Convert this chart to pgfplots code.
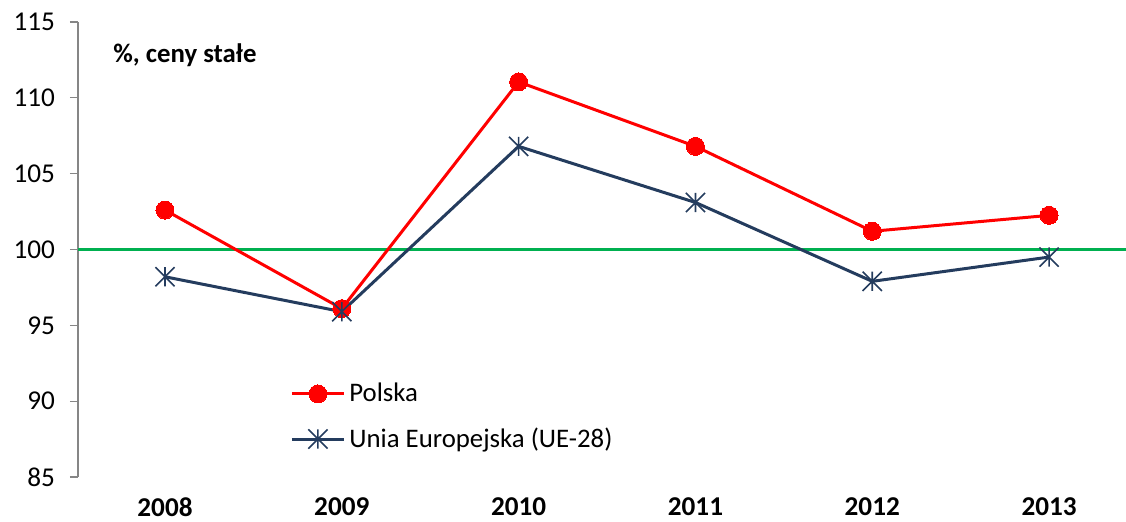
\documentclass[border=0pt]{standalone}
\usepackage{fontspec}
\setmainfont{Carlito}
\usepackage{pgfplots}
\pgfplotsset{compat=1.18}
\definecolor{plred}{RGB}{255,0,0}
\definecolor{eunavy}{RGB}{36,60,94}
\definecolor{lgreen}{RGB}{0,176,80}
\definecolor{axgray}{RGB}{134,134,134}
\pgfdeclareplotmark{xstar}{%
  \pgfpathmoveto{\pgfqpoint{0pt}{\pgfplotmarksize}}%
  \pgfpathlineto{\pgfqpoint{0pt}{-\pgfplotmarksize}}%
  \pgfpathmoveto{\pgfqpoint{-\pgfplotmarksize}{\pgfplotmarksize}}%
  \pgfpathlineto{\pgfqpoint{\pgfplotmarksize}{-\pgfplotmarksize}}%
  \pgfpathmoveto{\pgfqpoint{-\pgfplotmarksize}{-\pgfplotmarksize}}%
  \pgfpathlineto{\pgfqpoint{\pgfplotmarksize}{\pgfplotmarksize}}%
  \pgfusepathqstroke}
\begin{document}
\begin{tikzpicture}
\begin{axis}[
  at={(0,0)}, anchor=south west,
  scale only axis,
  width=524pt, height=227.5pt,
  xmin=-0.492, xmax=5.435,
  ymin=85, ymax=115,
  ytick={85,90,...,115},
  xtick={0,1,2,3,4,5},
  xticklabels={2008,2009,2010,2011,2012,2013},
  axis lines=left,
  axis line style={-, axgray, line width=0.6pt},
  x axis line style={draw=none},
  xtick style={draw=none},
  ytick style={axgray, line width=0.6pt},
  tick align=outside,
  major tick length=4pt,
  /pgf/number format/assume math mode=true,
  tick label style={font=\fontsize{13.6}{16}\selectfont, text=black},
  xticklabel style={font=\fontsize{13.6}{16}\selectfont\bfseries, yshift=-3pt},
  yticklabel style={xshift=-4pt},
  clip=false,
  legend style={draw=none, fill=none, at={(rel axis cs:0.2023,0.216)}, anchor=north west,
    font=\fontsize{13.4}{16}\selectfont, row sep=7.5pt, inner sep=0pt,
    cells={anchor=west}},
  legend cell align=left,
  legend image code/.code={%
    \draw[mark repeat=2,mark phase=2] plot coordinates {(0pt,0pt) (13pt,0pt) (26pt,0pt)};},
]
\addplot[lgreen, line width=1.8pt, forget plot] coordinates {(-0.492,100) (5.435,100)};
\addplot[plred, line width=1.5pt, mark=*, mark size=4.5pt, mark options={fill=plred, draw=plred, line width=0pt}]
  coordinates {(0,102.6) (1,96.1) (2,111.05) (3,106.8) (4,101.2) (5,102.25)};
\addlegendentry{Polska}
\addplot[eunavy, line width=1.5pt, mark=xstar, mark size=4.8pt, mark options={line width=0.8pt}]
  coordinates {(0,98.2) (1,95.9) (2,106.8) (3,103.1) (4,97.9) (5,99.5)};
\addlegendentry{Unia Europejska (UE-28)}
\node[anchor=west, font=\fontsize{13.4}{16}\selectfont\bfseries, inner sep=0pt] at (rel axis cs:0.0334,0.927) {\%, ceny stałe};
\end{axis}
\pgfresetboundingbox
\path (-39pt,-22.5pt) rectangle (524pt,238.5pt);
\end{tikzpicture}
\end{document}
